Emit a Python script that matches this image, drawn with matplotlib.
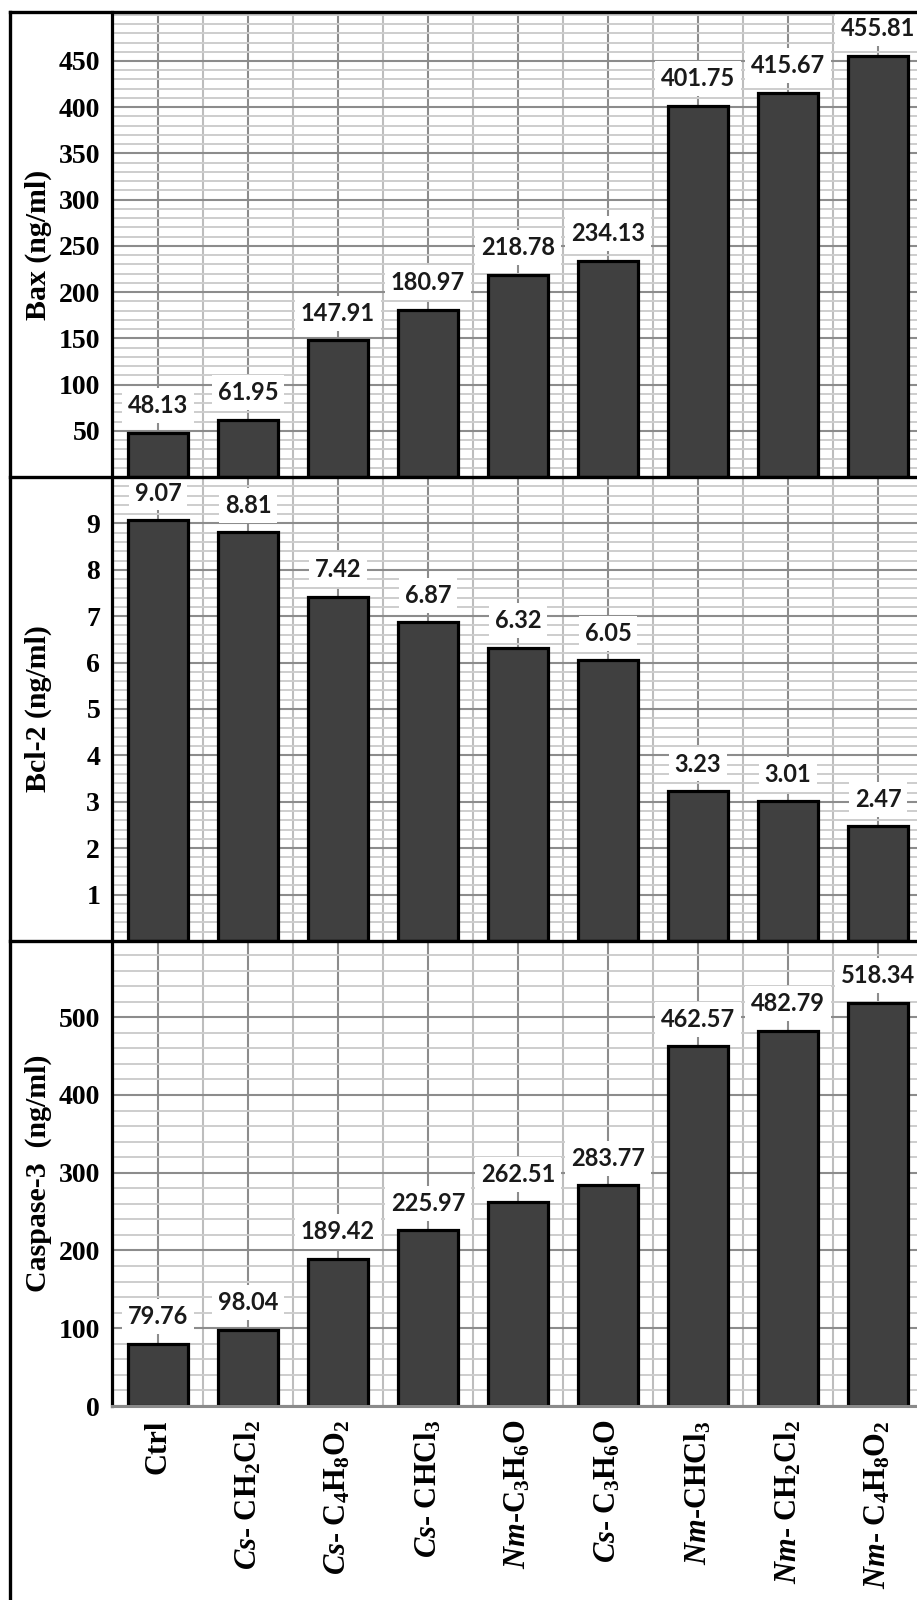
import matplotlib
matplotlib.use("Agg")
import matplotlib.pyplot as plt
from matplotlib.lines import Line2D
from matplotlib.ticker import MultipleLocator, FixedLocator
import numpy as np

plt.rcParams['font.family'] = ['Liberation Serif', 'DejaVu Serif']
plt.rcParams['font.weight'] = 'bold'
plt.rcParams['mathtext.fontset'] = 'custom'
plt.rcParams['mathtext.rm'] = 'Liberation Serif:bold'
plt.rcParams['mathtext.it'] = 'Liberation Serif:italic:bold'
plt.rcParams['mathtext.bf'] = 'Liberation Serif:bold'

categories = [r"Ctrl",
              r"$\mathit{Cs}$- CH$_2$Cl$_2$",
              r"$\mathit{Cs}$- C$_4$H$_8$O$_2$",
              r"$\mathit{Cs}$- CHCl$_3$",
              r"$\mathit{Nm}$-C$_3$H$_6$O",
              r"$\mathit{Cs}$- C$_3$H$_6$O",
              r"$\mathit{Nm}$-CHCl$_3$",
              r"$\mathit{Nm}$- CH$_2$Cl$_2$",
              r"$\mathit{Nm}$- C$_4$H$_8$O$_2$"]

bax = [48.13, 61.95, 147.91, 180.97, 218.78, 234.13, 401.75, 415.67, 455.81]
bcl2 = [9.07, 8.81, 7.42, 6.87, 6.32, 6.05, 3.23, 3.01, 2.47]
casp3 = [79.76, 98.04, 189.42, 225.97, 262.51, 283.77, 462.57, 482.79, 518.34]

ylabels = ["Bax (ng/ml)", "Bcl-2 (ng/ml)", "Caspase-3  (ng/ml)"]
yticks_list = [list(range(50, 451, 50)), list(range(1, 10)), list(range(0, 501, 100))]
ylims = [(0, 503), (0, 10), (0, 598)]
minor_steps = [10, 0.2, 20]

W, H = 917, 1600
fig = plt.figure(figsize=(W / 100, H / 100), dpi=100)

def fx(px):
    return px / W

def fy(py):
    return 1 - py / H

left_px, right_px = 112, 917
panels_px = [(12, 477), (477, 941), (941, 1406)]
datasets = [bax, bcl2, casp3]
x = np.arange(len(categories))
xlim = (-0.511, 8.433)

for i, ((t, b), vals) in enumerate(zip(panels_px, datasets)):
    ax = fig.add_axes([fx(left_px), fy(b), fx(right_px) - fx(left_px), fy(t) - fy(b)])
    ax.set_xlim(*xlim)
    ax.set_ylim(*ylims[i])
    ax.set_axisbelow(True)
    ax.yaxis.set_major_locator(FixedLocator(yticks_list[i]))
    ax.yaxis.set_minor_locator(MultipleLocator(minor_steps[i]))
    ax.xaxis.set_major_locator(FixedLocator(list(x)))
    ax.xaxis.set_minor_locator(FixedLocator(list(x + 0.5) + [-0.5]))
    ax.grid(which='minor', axis='y', color='#cdcdcd', lw=1.4)
    ax.grid(which='major', axis='y', color='#8c8c8c', lw=1.5)
    ax.grid(which='minor', axis='x', color='#bdbdbd', lw=1.5)
    ax.grid(which='major', axis='x', color='#8c8c8c', lw=1.5)
    ax.tick_params(which='both', length=0)
    ax.tick_params(axis='y', labelsize=20, pad=8.5)
    for lab in ax.get_yticklabels():
        lab.set_fontweight('bold')
    ax.bar(x, vals, width=0.667, color='#404040', edgecolor='black', linewidth=2.3, zorder=3)
    for xi, v in zip(x, vals):
        ax.annotate("{:.2f}".format(v), xy=(xi, v), xytext=(0, 19.5), textcoords='offset points',
                    ha='center', va='center', fontsize=17, fontweight='bold',
                    family=['Lato', 'DejaVu Sans'], color='#1a1a1a', zorder=5,
                    bbox=dict(boxstyle='square,pad=0.25', fc='white', ec='none'))
    for s in ['top', 'right']:
        ax.spines[s].set_visible(False)
    ax.spines['left'].set_linewidth(2.3)
    ax.spines['left'].set_color('black')
    ax.spines['left'].set_zorder(6)
    if i < 2:
        ax.spines['bottom'].set_visible(False)
        ax.set_xticklabels([])
    else:
        ax.spines['bottom'].set_color('#8a8a8a')
        ax.spines['bottom'].set_linewidth(2.2)
        ax.spines['bottom'].set_zorder(6)
        ax.set_xticklabels(categories, rotation=90, fontsize=22, fontweight='bold',
                           ha='center', va='top')
        ax.tick_params(axis='x', pad=10)
    ax.set_ylabel(ylabels[i], fontsize=21.5, fontweight='bold', va='center')
    ax.yaxis.set_label_coords((38 - left_px) / (right_px - left_px), 0.5)

# outer frame and separators
lw_frame = 2.4
fig.add_artist(Line2D([fx(10), fx(10)], [0, fy(12)], color='black', lw=lw_frame))
for py in [12, 477, 941]:
    fig.add_artist(Line2D([fx(10), 1], [fy(py), fy(py)], color='black', lw=lw_frame))

fig.savefig("out.png", dpi=100)
